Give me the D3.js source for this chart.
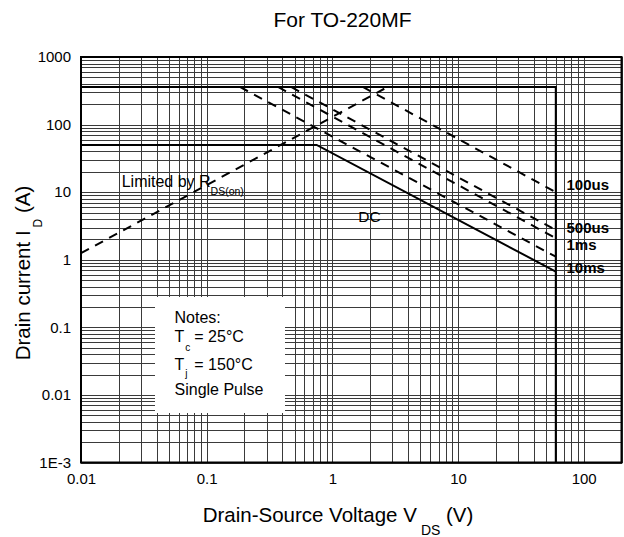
<!DOCTYPE html>
<html><head><meta charset="utf-8">
<script src="https://cdn.jsdelivr.net/npm/d3@7"></script>
<style>body{margin:0;background:#fff}svg{display:block;font-family:"Liberation Sans",Arial,sans-serif}</style>
</head><body>
<script>
// ---- data ----
const xTickValues = [0.01, 0.1, 1, 10, 100];
const xTickLabels = ["0.01", "0.1", "1", "10", "100"];
const yTickValues = [1000, 100, 10, 1, 0.1, 0.01, 0.001];
const yTickLabels = ["1000", "100", "10", "1", "0.1", "0.01", "1E-3"];
const rdsLimit = [[0.01, 1.25], [2.75, 360]];
const boundary = [[0.01, 360], [60, 360], [60, 0.001]];
const dcLine = [[0.01, 50], [0.75, 50], [60, 0.667]];
const pulseNames = ["100us", "500us", "1ms", "10ms"];
const pulseStart = [[1.75, 360], [0.47, 360], [0.37, 360], [0.184, 360]];
const pulseEnd = [[60, 10], [60, 2.75], [60, 2.08], [60, 1.11]];

// ---- layout ----
const W = 624, H = 537;
const L = 81, R = 621.5, T = 57, B = 462.5;
const pulseLabelY = [189.5, 232.5, 250, 272.5];

const svg = d3.select("body").append("svg").attr("width", W).attr("height", H);
const x = d3.scaleLog().domain([0.01, 200]).range([L, R]);
const y = d3.scaleLog().domain([0.001, 1000]).range([B, T]);

// grid positions
const xGrid = [];
for (let e = -2; e <= 2; e++) for (let k = 1; k <= 9; k++) { const v = k * Math.pow(10, e); if (v <= 200.0001) xGrid.push(+v.toPrecision(6)); }
const yGrid = [];
for (let e = -3; e <= 2; e++) for (let k = 1; k <= 9; k++) yGrid.push(+(k * Math.pow(10, e)).toPrecision(6));
yGrid.push(1000);

const gx = svg.append("g").attr("transform", `translate(0,${B})`)
  .call(d3.axisBottom(x).tickValues(xGrid).tickSize(-(B - T)).tickFormat(""));
gx.select(".domain").remove();
gx.selectAll("line").attr("stroke", "#3a3a3a").attr("stroke-width", 1).attr("shape-rendering", "crispEdges");

const gy = svg.append("g").attr("transform", `translate(${L},0)`)
  .call(d3.axisLeft(y).tickValues(yGrid).tickSize(-(R - L)).tickFormat(""));
gy.select(".domain").remove();
gy.selectAll("line").attr("stroke", "#3a3a3a").attr("stroke-width", 1).attr("shape-rendering", "crispEdges");

// notes box (covers grid)
svg.append("rect").attr("x", 155).attr("y", 297).attr("width", 130).attr("height", 116).attr("fill", "#fff");

const line = d3.line().x(d => x(d[0])).y(d => y(d[1]));

// solid boundaries
svg.append("path").attr("d", line(boundary)).attr("fill", "none").attr("stroke", "#000").attr("stroke-width", 2);
svg.append("path").attr("d", line(dcLine)).attr("fill", "none").attr("stroke", "#000").attr("stroke-width", 2);

// dashed lines
svg.append("path").attr("d", line(rdsLimit)).attr("fill", "none").attr("stroke", "#000")
  .attr("stroke-width", 2).attr("stroke-dasharray", "9,7");
pulseNames.forEach((n, i) => {
  svg.append("path").attr("d", line([pulseStart[i], pulseEnd[i]])).attr("fill", "none").attr("stroke", "#000")
    .attr("stroke-width", 2).attr("stroke-dasharray", "9,7");
  svg.append("text").attr("x", 566.5).attr("y", pulseLabelY[i]).style("font-size", "15px").style("font-weight", "bold")
    .text(n);
});

// frame
svg.append("rect").attr("x", L).attr("y", T).attr("width", R - L).attr("height", B - T)
  .attr("fill", "none").attr("stroke", "#000").attr("stroke-width", 2);

// axes tick labels
const ax = svg.append("g").attr("transform", `translate(0,${B})`)
  .call(d3.axisBottom(x).tickValues(xTickValues).tickSize(0).tickPadding(11).tickFormat((d, i) => xTickLabels[i]));
ax.select(".domain").remove();
ax.selectAll("text").style("font-size", "15px").attr("fill", "#000").style("font-family", '"Liberation Sans",Arial,sans-serif');

const ay = svg.append("g").attr("transform", `translate(${L},0)`)
  .call(d3.axisLeft(y).tickValues(yTickValues).tickSize(0).tickPadding(10).tickFormat((d, i) => yTickLabels[i]));
ay.select(".domain").remove();
ay.selectAll("text").style("font-size", "15px").attr("fill", "#000").style("font-family", '"Liberation Sans",Arial,sans-serif');

// title
svg.append("text").attr("x", 342.5).attr("y", 26.5).attr("text-anchor", "middle").style("font-size", "21px").text("For TO-220MF");

// x label
const xl = svg.append("text").attr("x", 338).attr("y", 521.7).attr("text-anchor", "middle").style("font-size", "20.5px");
xl.append("tspan").text("Drain-Source Voltage V");
xl.append("tspan").attr("dx", 4).attr("dy", 13.3).style("font-size", "14px").text("DS");
xl.append("tspan").attr("dy", -13.3).text(" (V)");

// y label
const yl = svg.append("text").attr("transform", "translate(30,273) rotate(-90)").attr("text-anchor", "middle").style("font-size", "20.5px");
yl.append("tspan").text("Drain current I");
yl.append("tspan").attr("dx", 3).attr("dy", 12).style("font-size", "12px").text("D");
yl.append("tspan").attr("dy", -12).text(" (A)");

// annotations
const lim = svg.append("text").attr("x", 121.7).attr("y", 186.7).style("font-size", "16px");
lim.append("tspan").text("Limited by R");
lim.append("tspan").attr("dy", 8.3).style("font-size", "10.5px").text("DS(on)");

svg.append("text").attr("x", 358.3).attr("y", 222.3).style("font-size", "15.5px").text("DC");

// notes
const nx = 174.5;
svg.append("text").attr("x", nx).attr("y", 323).style("font-size", "16px").text("Notes:");
const n1 = svg.append("text").attr("x", nx).attr("y", 342.3).style("font-size", "16px");
n1.append("tspan").text("T");
n1.append("tspan").attr("dx", 1).attr("dy", 8.5).style("font-size", "10px").text("c");
n1.append("tspan").attr("x", 194.3).attr("dy", -8.5).text("= 25°C");
const n2 = svg.append("text").attr("x", nx).attr("y", 370).style("font-size", "16px");
n2.append("tspan").text("T");
n2.append("tspan").attr("dx", 1).attr("dy", 7).style("font-size", "10px").text("j");
n2.append("tspan").attr("x", 194.3).attr("dy", -7).text("= 150°C");
svg.append("text").attr("x", nx).attr("y", 395).style("font-size", "16px").text("Single Pulse");
</script>
</body></html>
